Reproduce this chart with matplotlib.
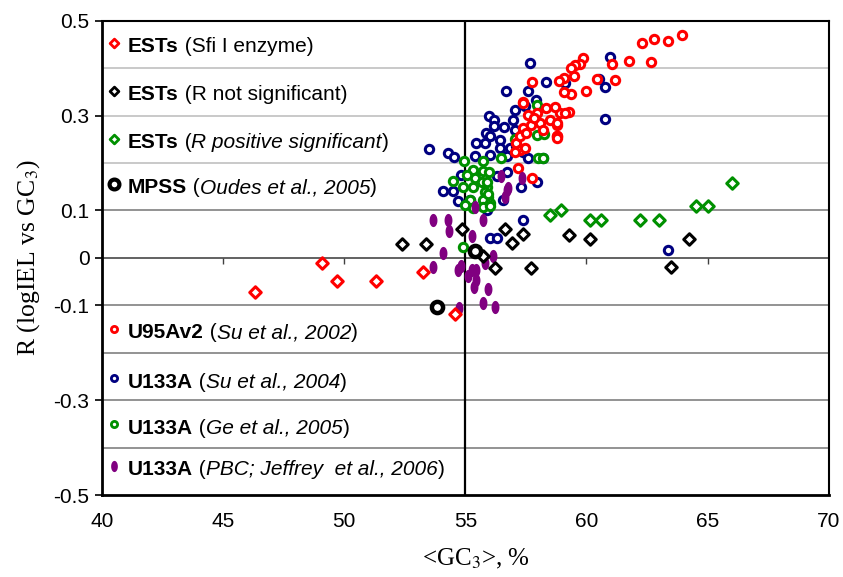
import numpy as np
import matplotlib
matplotlib.use("Agg")
from matplotlib import pyplot as plt

# ESTs (Sfi I enzyme) - red diamonds
sfi_x = [46.3, 49.1, 49.7, 51.3, 53.26, 54.57]
sfi_y = [-0.071, -0.010, -0.049, -0.049, -0.030, -0.118]

# ESTs (R not significant) - black diamonds
ns_x = [52.39, 53.38, 54.87, 56.63, 57.39, 56.93, 55.74, 56.22, 57.7, 59.29, 60.13, 64.24, 63.51]
ns_y = [0.030, 0.030, 0.061, 0.061, 0.050, 0.031, 0.005, -0.022, -0.021, 0.049, 0.040, 0.040, -0.020]

# ESTs (R positive significant) - green diamonds
ps_x = [58.50, 58.94, 60.15, 60.61, 62.22, 62.99, 64.54, 65.02, 66.01]
ps_y = [0.091, 0.100, 0.079, 0.079, 0.079, 0.079, 0.110, 0.110, 0.158]

# MPSS (Oudes et al., 2005) - big black circles
mpss_x = [53.81, 55.38]
mpss_y = [-0.104, 0.014]

# U95Av2 (Su et al., 2002) - red circles
u95_x = [63.96, 63.37, 62.78, 62.30, 62.66, 61.75, 61.04, 59.84, 59.73, 59.52, 59.36,
         61.17, 60.44, 59.48, 59.07, 58.87, 60.00, 59.38, 59.07, 59.29, 58.90, 58.77,
         58.79, 57.76, 57.36, 57.16, 57.76, 58.77, 57.39, 57.60, 57.94, 58.35, 58.70,
         58.49, 58.77, 58.08, 57.73, 57.39, 59.11, 57.11, 57.25, 57.05, 57.46, 57.25,
         57.52, 58.77, 58.2, 57.85]
u95_y = [0.470, 0.458, 0.462, 0.453, 0.414, 0.416, 0.409, 0.421, 0.409, 0.407, 0.400,
         0.376, 0.377, 0.383, 0.379, 0.373, 0.351, 0.346, 0.349, 0.307, 0.305, 0.281,
         0.256, 0.371, 0.328, 0.189, 0.168, 0.256, 0.326, 0.302, 0.305, 0.316, 0.319,
         0.291, 0.284, 0.284, 0.281, 0.274, 0.305, 0.242, 0.228, 0.224, 0.231, 0.256,
         0.263, 0.252, 0.27, 0.295]

# U133A (Su et al., 2004) - navy circles
su_x = [57.66, 60.97, 58.35, 56.67, 57.60, 59.11, 60.52, 60.76, 60.76, 57.91, 57.05,
        57.46, 55.98, 56.19, 56.97, 56.18, 56.59, 57.05, 55.85, 56.01, 55.44, 55.81,
        56.43, 56.43, 56.84, 57.11, 57.39, 53.51, 54.27, 54.54, 55.39, 56.01, 56.70,
        57.60, 58.21, 54.84, 55.39, 56.70, 56.29, 54.09, 54.50, 54.68, 55.19, 55.88,
        56.56, 57.28, 57.94, 57.36, 56.01, 56.29, 63.37]
su_y = [0.411, 0.423, 0.371, 0.352, 0.352, 0.369, 0.377, 0.360, 0.293, 0.333, 0.312,
        0.321, 0.300, 0.291, 0.291, 0.278, 0.275, 0.270, 0.264, 0.256, 0.242, 0.242,
        0.249, 0.231, 0.231, 0.235, 0.224, 0.229, 0.221, 0.212, 0.214, 0.217, 0.214,
        0.210, 0.210, 0.175, 0.179, 0.182, 0.172, 0.141, 0.141, 0.121, 0.122, 0.101,
        0.122, 0.150, 0.161, 0.080, 0.042, 0.042, 0.017]

# U133A (Ge et al., 2005) - green circles
ge_x = [57.94, 57.05, 57.94, 58.26, 56.47, 57.98, 54.95, 55.74, 55.32, 55.71, 55.98,
        54.50, 55.05, 55.39, 54.91, 55.32, 55.67, 55.88, 55.81, 55.94, 55.74, 56.01,
        55.19, 55.32, 54.98, 55.74, 55.9, 55.95, 56.0, 54.91, 58.2]
ge_y = [0.323, 0.250, 0.259, 0.261, 0.210, 0.210, 0.205, 0.205, 0.186, 0.184, 0.182,
        0.163, 0.175, 0.168, 0.150, 0.150, 0.161, 0.150, 0.140, 0.129, 0.122, 0.115,
        0.122, 0.105, 0.112, 0.108, 0.160, 0.135, 0.110, 0.024, 0.210]

# U133A (PBC; Jeffrey et al., 2006) - purple ellipses
pbc_x = [53.67, 54.29, 54.33, 54.06, 53.67, 54.70, 54.84, 55.12, 55.26, 55.46, 55.35,
         55.44, 55.92, 55.74, 56.22, 54.75, 55.29, 55.74, 56.15, 55.81, 55.39, 56.49,
         57.32, 56.70, 56.63, 56.77]
pbc_y = [0.079, 0.080, 0.056, 0.010, -0.020, -0.025, -0.018, -0.039, -0.025, -0.025, -0.062,
         -0.046, -0.066, -0.096, -0.103, -0.106, 0.046, 0.080, 0.004, -0.011, 0.107, 0.172,
         0.168, 0.143, 0.129, 0.147]

x_ticks = [40, 45, 50, 55, 60, 65, 70]
y_ticks = [0.5, 0.3, 0.1, 0, -0.1, -0.3, -0.5]
y_grid = [0.4, 0.3, 0.2, 0.1, 0, -0.1, -0.2, -0.3, -0.4]

red = "#ff0000"
navy = "#000080"
green = "#009000"
purple = "#800080"

# vertical ellipse marker for the PBC points
t = np.linspace(0, 2 * np.pi, 40)
ellipse = list(zip(0.6 * np.cos(t), np.sin(t)))

plt.rcParams["font.family"] = ["Liberation Sans", "DejaVu Sans"]
plt.rcParams["mathtext.fontset"] = "stix"

fig = plt.figure(figsize=(8.43, 5.77), dpi=100)
ax = fig.add_axes([0.121, 0.142, 0.862, 0.822])

for g in y_grid:
    c = "#c0c0c0" if g > 0.15 else "#808080"
    ax.axhline(g, color=c, lw=1.2, zorder=1)
ax.axhline(0, color="#606060", lw=1.3, zorder=1)
ax.vlines([v for v in x_ticks[1:-1] if v != 55], -0.012, 0, color="#404040", lw=1, zorder=1)
ax.axvline(55, color="black", lw=1.6, zorder=2)

circ = dict(facecolors="white", linewidths=2.2, zorder=3)
ax.scatter(su_x, su_y, s=36, marker="o", edgecolors=navy, **circ)
ax.scatter(ge_x, ge_y, s=36, marker="o", edgecolors=green, **circ)
ax.scatter(u95_x, u95_y, s=36, marker="o", edgecolors=red, **circ)
ax.scatter(pbc_x, pbc_y, s=90, marker=ellipse, color=purple, linewidths=0, zorder=3)
ax.scatter(ns_x, ns_y, s=34, marker="D", edgecolors="black", **circ)
ax.scatter(ps_x, ps_y, s=34, marker="D", edgecolors=green, **circ)
ax.scatter(sfi_x, sfi_y, s=34, marker="D", edgecolors=red, **circ)
ax.scatter(mpss_x, mpss_y, s=65, marker="o", facecolors="white", edgecolors="black",
           linewidths=3.2, zorder=4)

# legend drawn inside the plot, piece by piece
legend_rows = [
    (0.445, "D", red, [("ESTs", "bold", "normal"), (" (Sfi I enzyme)", "normal", "normal")]),
    (0.344, "D", "black", [("ESTs", "bold", "normal"), (" (R not significant)", "normal", "normal")]),
    (0.243, "D", green, [("ESTs", "bold", "normal"), (" (", "normal", "normal"),
                         ("R positive significant", "normal", "italic"), (")", "normal", "normal")]),
    (0.148, "mpss", "black", [("MPSS", "bold", "normal"), (" (", "normal", "normal"),
                              ("Oudes et al., 2005", "normal", "italic"), (")", "normal", "normal")]),
    (-0.158, "o", red, [("U95Av2", "bold", "normal"), (" (", "normal", "normal"),
                        ("Su et al., 2002", "normal", "italic"), (")", "normal", "normal")]),
    (-0.262, "o", navy, [("U133A", "bold", "normal"), (" (", "normal", "normal"),
                         ("Su et al., 2004", "normal", "italic"), (")", "normal", "normal")]),
    (-0.359, "o", green, [("U133A", "bold", "normal"), (" (", "normal", "normal"),
                          ("Ge et al., 2005", "normal", "italic"), (")", "normal", "normal")]),
    (-0.447, "pbc", purple, [("U133A", "bold", "normal"), (" (", "normal", "normal"),
                             ("PBC; Jeffrey  et al., 2006", "normal", "italic"), (")", "normal", "normal")]),
]

for ly, mk, col, parts in legend_rows:
    if mk == "mpss":
        ax.scatter([40.5], [ly + 0.008], s=50, marker="o", facecolors="white", edgecolors="black",
                   linewidths=3.0, zorder=4)
    elif mk == "pbc":
        ax.scatter([40.5], [ly + 0.008], s=65, marker=ellipse, color=col, linewidths=0, zorder=4)
    else:
        ax.scatter([40.5], [ly + 0.008], s=20, marker=mk, facecolors="white", edgecolors=col,
                   linewidths=2.0, zorder=4)
    prev = None
    for txt, wt, st in parts:
        if prev is None:
            prev = ax.text(41.07, ly, txt, fontsize=15, fontweight=wt, fontstyle=st,
                           va="center", ha="left", zorder=5)
        else:
            prev = ax.annotate(txt, xy=(1, 0), xycoords=prev, va="bottom", ha="left",
                               fontsize=15, fontweight=wt, fontstyle=st, zorder=5)

ax.set_xlim(40, 70)
ax.set_ylim(-0.5, 0.5)
ax.set_xticks(x_ticks)
ax.set_xticklabels([str(v) for v in x_ticks])
ax.set_yticks(y_ticks)
ax.set_yticklabels(["0.5", "0.3", "0.1", "0", "-0.1", "-0.3", "-0.5"])
ax.tick_params(axis="x", length=0, pad=12, labelsize=15)
ax.tick_params(axis="y", length=5, width=1.2, pad=4, labelsize=15)

for s in ax.spines.values():
    s.set_color("black")
    s.set_linewidth(1.5)
ax.spines["left"].set_linewidth(2)
ax.spines["bottom"].set_linewidth(2)

ax.set_ylabel(r"R (logIEL vs GC$_3$)", family="Liberation Serif", fontsize=18.5, labelpad=8)
ax.set_xlabel(r"<GC$_3$>, %", family="Liberation Serif", fontsize=18, labelpad=14)
ax.xaxis.set_label_coords(0.514, -0.11)

fig.savefig("out.png", dpi=100)
